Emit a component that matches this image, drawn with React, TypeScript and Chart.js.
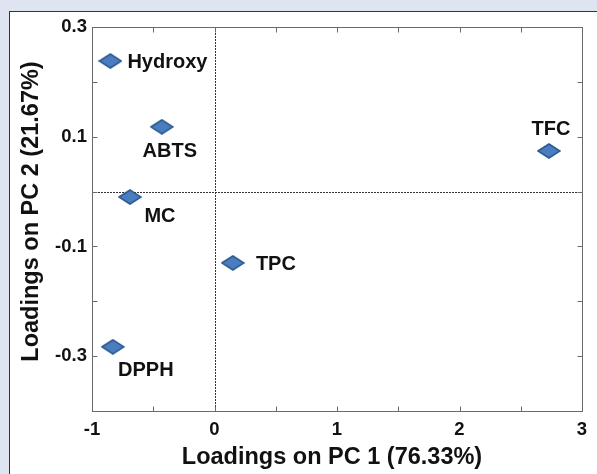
import React, { useEffect, useRef } from 'react';
import { Chart, registerables } from 'chart.js';

Chart.register(...registerables);

// ---- data ----
const variables = ['Hydroxy', 'ABTS', 'MC', 'TFC', 'TPC', 'DPPH'];
const pc1Loadings = [-0.85, -0.43, -0.69, 2.73, 0.15, -0.83];
const pc2Loadings = [0.238, 0.118, -0.01, 0.074, -0.13, -0.283];
const xTickLabels = [-1, 0, 1, 2, 3];
const yTickLabels = [0.3, 0.1, -0.1, -0.3];
const xAxisTitle = 'Loadings on PC 1 (76.33%)';
const yAxisTitle = 'Loadings on PC 2 (21.67%)';

// ---- label placement (style, not data) ----
const labelPlacement: Record<string, { dx: number; dy: number; align: CanvasTextAlign }> = {
  Hydroxy: { dx: 17, dy: 0, align: 'left' },
  ABTS: { dx: 8, dy: 23, align: 'center' },
  MC: { dx: 30, dy: 18, align: 'center' },
  TFC: { dx: 2, dy: -23, align: 'center' },
  TPC: { dx: 23, dy: 0, align: 'left' },
  DPPH: { dx: 33, dy: 22, align: 'center' },
};

const FONT = '"Liberation Sans", Arial, Helvetica, sans-serif';
const W = 597;
const H = 474;

function makeDiamond(): HTMLCanvasElement {
  const c = document.createElement('canvas');
  c.width = 24;
  c.height = 16;
  const g = c.getContext('2d')!;
  g.beginPath();
  g.moveTo(1, 8);
  g.lineTo(12, 1);
  g.lineTo(23, 8);
  g.lineTo(12, 15);
  g.closePath();
  g.fillStyle = '#4a7dbf';
  g.fill();
  g.lineWidth = 1.5;
  g.strokeStyle = '#2c5a90';
  g.stroke();
  return c;
}

const matchTick = (list: number[], v: number) => {
  const t = list.find((x) => Math.abs(x - v) < 1e-6);
  return t === undefined ? '' : String(t);
};

const framePlugin = {
  id: 'frame',
  beforeDatasetsDraw(chart: any) {
    const { ctx, chartArea: a, scales } = chart;
    const x0 = Math.round(scales.x.getPixelForValue(0)) + 0.5;
    const y0 = Math.round(scales.y.getPixelForValue(0)) + 0.5;
    ctx.save();
    ctx.strokeStyle = '#333';
    ctx.lineWidth = 1;
    ctx.setLineDash([2, 1]);
    ctx.beginPath();
    ctx.moveTo(x0, a.top);
    ctx.lineTo(x0, a.bottom);
    ctx.moveTo(a.left, y0);
    ctx.lineTo(a.right, y0);
    ctx.stroke();
    ctx.restore();
  },
  afterDraw(chart: any) {
    const { ctx, chartArea: a, scales } = chart;
    ctx.save();
    ctx.strokeStyle = '#6a6a6a';
    ctx.lineWidth = 1;
    ctx.setLineDash([]);
    const L = Math.round(a.left) + 0.5;
    const R = Math.round(a.right) + 0.5;
    const T = Math.round(a.top) + 0.5;
    const B = Math.round(a.bottom) + 0.5;
    ctx.strokeRect(L, T, R - L, B - T);
    const tl = 5;
    ctx.beginPath();
    scales.x.ticks.forEach((t: any) => {
      const px = Math.round(scales.x.getPixelForValue(t.value)) + 0.5;
      ctx.moveTo(px, B);
      ctx.lineTo(px, B - tl);
      ctx.moveTo(px, T);
      ctx.lineTo(px, T + tl);
    });
    scales.y.ticks.forEach((t: any) => {
      const py = Math.round(scales.y.getPixelForValue(t.value)) + 0.5;
      ctx.moveTo(L, py);
      ctx.lineTo(L + tl, py);
      ctx.moveTo(R, py);
      ctx.lineTo(R - tl, py);
    });
    ctx.stroke();

    // axis titles
    ctx.fillStyle = '#111';
    ctx.font = `bold 23.5px ${FONT}`;
    ctx.textBaseline = 'alphabetic';
    ctx.textAlign = 'center';
    ctx.fillText(xAxisTitle, (a.left + a.right) / 2 - 5, H - 10);
    ctx.save();
    ctx.translate(37.5, (a.top + a.bottom) / 2 - 7.5);
    ctx.rotate(-Math.PI / 2);
    ctx.fillText(yAxisTitle, 0, 0);
    ctx.restore();

    // point labels
    const meta = chart.getDatasetMeta(0);
    ctx.fillStyle = '#111';
    ctx.font = `bold 20px ${FONT}`;
    ctx.textBaseline = 'alphabetic';
    meta.data.forEach((el: any, i: number) => {
      const name = variables[i];
      const p = labelPlacement[name];
      ctx.textAlign = p.align;
      ctx.fillText(name, el.x + p.dx, el.y + p.dy + 7);
    });
    ctx.restore();
  },
};

export default function App() {
  const ref = useRef<HTMLCanvasElement>(null);

  useEffect(() => {
    if (!ref.current) return;
    const diamond = makeDiamond();
    const chart = new Chart(ref.current, {
      type: 'scatter',
      data: {
        datasets: [
          {
            label: 'Loadings',
            data: variables.map((_, i) => ({ x: pc1Loadings[i], y: pc2Loadings[i] })),
            pointStyle: diamond as any,
            pointRadius: 10,
            pointHoverRadius: 10,
          },
        ],
      },
      options: {
        animation: false,
        responsive: false,
        devicePixelRatio: 1,
        events: [],
        layout: { padding: { left: 0, top: 27, right: 15, bottom: 0 } },
        plugins: { legend: { display: false }, tooltip: { enabled: false } },
        scales: {
          x: {
            type: 'linear',
            min: -1,
            max: 3,
            afterFit: (s: any) => {
              s.height = 63;
            },
            grid: { display: true, drawOnChartArea: false, drawTicks: false },
            border: { display: false },
            ticks: {
              stepSize: 0.5,
              autoSkip: false,
              maxRotation: 0,
              padding: 8,
              color: '#111',
              font: { family: FONT, size: 18.5, weight: 'bold' },
              callback: (v: any) => matchTick(xTickLabels, Number(v)),
            },
          },
          y: {
            type: 'linear',
            min: -0.4,
            max: 0.3,
            afterFit: (s: any) => {
              s.width = 92;
            },
            grid: { display: true, drawOnChartArea: false, drawTicks: false },
            border: { display: false },
            ticks: {
              stepSize: 0.1,
              autoSkip: false,
              padding: 5,
              color: '#111',
              font: { family: FONT, size: 18.5, weight: 'bold' },
              callback: (v: any) => matchTick(yTickLabels, Math.round(Number(v) * 10) / 10),
            },
          },
        },
      },
      plugins: [framePlugin],
    });
    return () => chart.destroy();
  }, []);

  return (
    <div
      style={{
        position: 'fixed',
        left: 0,
        top: 0,
        width: W,
        height: H,
        background: '#dfe4f1',
        overflow: 'hidden',
      }}
    >
      <div
        style={{
          position: 'absolute',
          left: 9,
          top: 11,
          width: 640,
          height: 520,
          background: '#ffffff',
          borderLeft: '1.6px solid #353535',
          borderTop: '1.6px solid #353535',
        }}
      />
      <canvas
        ref={ref}
        width={W}
        height={H}
        style={{ position: 'absolute', left: 0, top: 0, width: W, height: H }}
      />
    </div>
  );
}
